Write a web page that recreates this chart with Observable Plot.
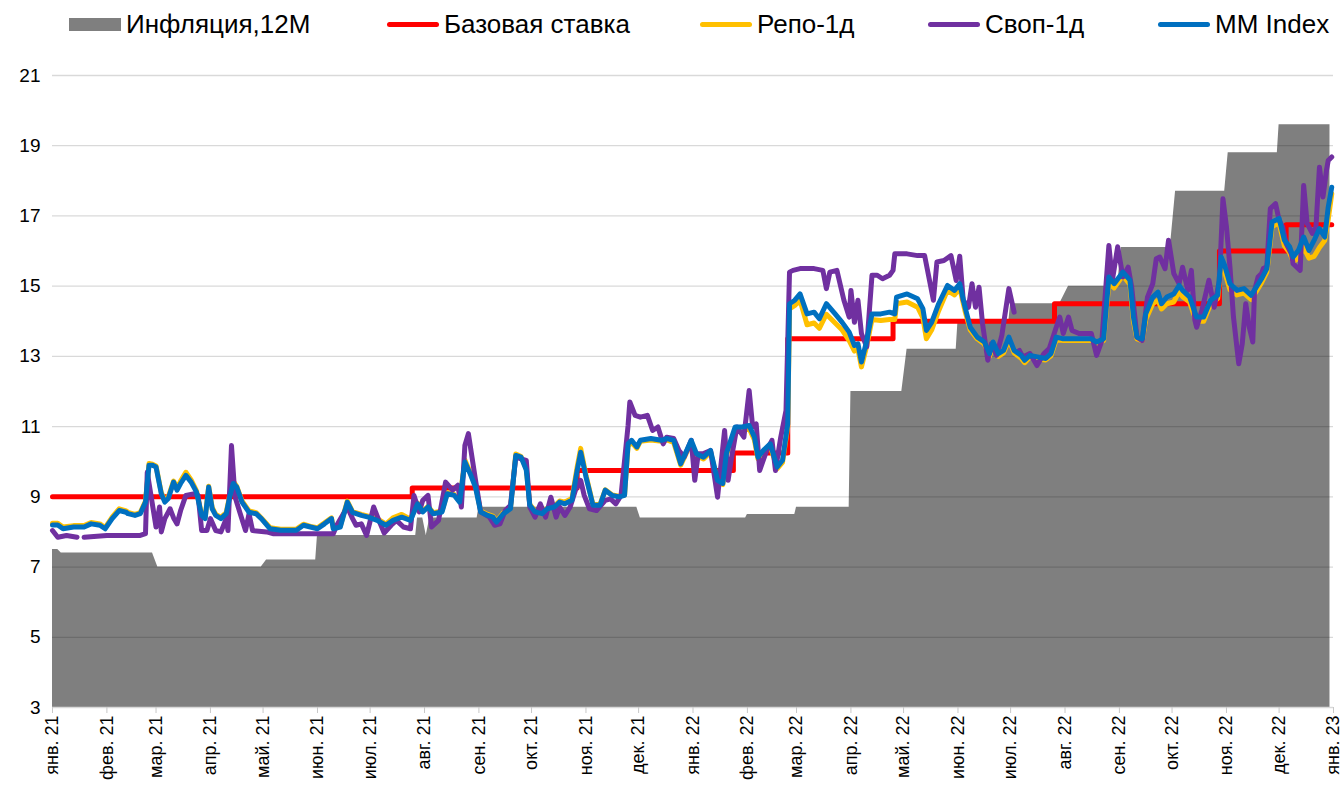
<!DOCTYPE html>
<html><head><meta charset="utf-8">
<script src="https://cdn.jsdelivr.net/npm/d3@7"></script>
<script src="https://cdn.jsdelivr.net/npm/@observablehq/plot@0.6"></script>
<style>
body{margin:0;background:#fff;font-family:"Liberation Sans",Arial,sans-serif;}
#legend{position:relative;height:50px;width:1343px;}
.item{position:absolute;top:0;height:48px;display:flex;align-items:center;font-size:26px;color:#000;white-space:nowrap;}
.sw{display:inline-block;margin-right:5px;}
</style></head><body>
<div id="legend"></div>
<div id="chart"></div>
<script>
// ---------- DATA ----------
const monthNames = ["янв.","фев.","мар.","апр.","май.","июн.","июл.","авг.","сен.","окт.","ноя.","дек."];
const yTicks = [3,5,7,9,11,13,15,17,19,21];

const seriesNames = ["Инфляция,12М","Базовая ставка","Репо-1д","Своп-1д","MM Index"];
const seriesColors = ["#7f7f7f","#ff0000","#ffc000","#7030a0","#0070c0"];

const inflDates = ["2021-01-01","2021-01-04","2021-01-06","2021-02-27","2021-03-02","2021-04-30","2021-05-03","2021-05-31","2021-06-01","2021-07-27","2021-07-28","2021-07-31","2021-08-02","2021-08-04","2021-08-31","2021-09-01","2021-11-30","2021-12-02","2022-01-31","2022-02-01","2022-02-28","2022-03-01","2022-03-31","2022-04-01","2022-04-30","2022-05-03","2022-05-31","2022-06-01","2022-06-30","2022-07-01","2022-07-29","2022-08-03","2022-08-31","2022-09-02","2022-09-30","2022-10-03","2022-10-31","2022-11-02","2022-11-30","2022-12-01","2022-12-30"];
const inflValues = [7.5,7.5,7.4,7.4,7.0,7.0,7.2,7.2,7.9,7.9,8.4,8.4,7.9,8.4,8.4,8.7,8.7,8.4,8.4,8.5,8.5,8.7,8.7,12.0,12.0,13.2,13.2,14.0,14.0,14.5,14.5,15.0,15.0,16.1,16.1,17.7,17.7,18.8,18.8,19.6,19.6];

const rateDates = ["2021-01-01","2021-07-25","2021-10-27","2022-01-24","2022-02-24","2022-04-25","2022-07-26","2022-10-28","2022-12-05","2022-12-31"];
const rateValues = [9.0,9.25,9.75,10.25,13.5,14.0,14.5,16.0,16.75,16.75];

const mmDates = ["2021-01-01","2021-01-04","2021-01-07","2021-01-13","2021-01-19","2021-01-23","2021-01-28","2021-01-31","2021-02-04","2021-02-08","2021-02-12","2021-02-13","2021-02-17","2021-02-20","2021-02-23","2021-02-25","2021-02-27","2021-03-01","2021-03-04","2021-03-06","2021-03-08","2021-03-11","2021-03-13","2021-03-15","2021-03-18","2021-03-21","2021-03-24","2021-03-27","2021-03-29","2021-03-31","2021-04-02","2021-04-04","2021-04-07","2021-04-10","2021-04-12","2021-04-14","2021-04-16","2021-04-19","2021-04-23","2021-04-27","2021-04-30","2021-05-05","2021-05-11","2021-05-20","2021-05-24","2021-05-28","2021-06-01","2021-06-05","2021-06-09","2021-06-10","2021-06-14","2021-06-18","2021-06-21","2021-06-26","2021-06-30","2021-07-05","2021-07-10","2021-07-14","2021-07-19","2021-07-24","2021-07-28","2021-07-31","2021-08-03","2021-08-06","2021-08-11","2021-08-14","2021-08-18","2021-08-21","2021-08-24","2021-08-27","2021-08-30","2021-09-02","2021-09-06","2021-09-09","2021-09-11","2021-09-15","2021-09-19","2021-09-22","2021-09-25","2021-09-28","2021-09-30","2021-10-03","2021-10-07","2021-10-10","2021-10-14","2021-10-17","2021-10-20","2021-10-24","2021-10-27","2021-10-29","2021-11-01","2021-11-05","2021-11-09","2021-11-12","2021-11-16","2021-11-20","2021-11-23","2021-11-25","2021-11-27","2021-11-30","2021-12-02","2021-12-08","2021-12-14","2021-12-17","2021-12-21","2021-12-25","2021-12-31","2022-01-03","2022-01-07","2022-01-11","2022-01-15","2022-01-18","2022-01-20","2022-01-25","2022-01-29","2022-02-02","2022-02-05","2022-02-07","2022-02-10","2022-02-14","2022-02-18","2022-02-21","2022-02-24","2022-02-25","2022-02-28","2022-03-03","2022-03-07","2022-03-11","2022-03-14","2022-03-18","2022-03-23","2022-03-27","2022-03-31","2022-04-03","2022-04-05","2022-04-07","2022-04-10","2022-04-13","2022-04-18","2022-04-23","2022-04-26","2022-04-27","2022-05-03","2022-05-09","2022-05-12","2022-05-14","2022-05-17","2022-05-21","2022-05-26","2022-05-30","2022-06-02","2022-06-05","2022-06-08","2022-06-12","2022-06-16","2022-06-19","2022-06-21","2022-06-24","2022-06-27","2022-06-30","2022-07-03","2022-07-07","2022-07-09","2022-07-12","2022-07-17","2022-07-21","2022-07-24","2022-07-27","2022-07-31","2022-08-08","2022-08-16","2022-08-19","2022-08-23","2022-08-26","2022-08-29","2022-09-03","2022-09-07","2022-09-09","2022-09-11","2022-09-14","2022-09-16","2022-09-20","2022-09-23","2022-09-25","2022-09-28","2022-10-02","2022-10-05","2022-10-07","2022-10-11","2022-10-13","2022-10-15","2022-10-19","2022-10-23","2022-10-27","2022-10-29","2022-10-31","2022-11-03","2022-11-07","2022-11-11","2022-11-15","2022-11-18","2022-11-21","2022-11-24","2022-11-27","2022-12-01","2022-12-04","2022-12-07","2022-12-09","2022-12-12","2022-12-15","2022-12-18","2022-12-21","2022-12-24","2022-12-27","2022-12-29","2022-12-31"];
const mmValues = [8.20,8.20,8.09,8.14,8.14,8.23,8.19,8.09,8.38,8.61,8.56,8.52,8.47,8.52,8.85,9.90,9.90,9.85,9.09,8.85,8.95,9.42,9.19,9.38,9.61,9.42,9.14,8.47,8.38,9.28,8.66,8.47,8.38,8.52,9.00,9.38,9.28,8.85,8.56,8.52,8.38,8.09,8.05,8.05,8.19,8.14,8.09,8.23,8.38,8.09,8.14,8.85,8.56,8.47,8.42,8.33,8.19,8.33,8.42,8.33,8.80,8.57,8.71,8.52,8.57,9.09,9.04,8.85,9.99,9.66,9.28,8.57,8.47,8.42,8.28,8.52,8.66,10.18,10.13,9.76,8.76,8.57,8.52,8.66,8.71,8.85,8.80,8.90,9.75,10.27,9.57,8.76,8.76,9.19,9.04,9.00,9.04,10.51,10.61,10.42,10.61,10.66,10.61,10.66,10.61,9.94,10.61,10.23,10.13,10.32,9.47,9.38,10.23,10.99,10.99,11.03,10.70,10.13,10.32,10.51,9.85,10.04,11.08,14.50,14.60,14.78,14.21,14.26,14.07,14.50,14.21,13.97,13.69,13.31,13.36,12.84,13.45,14.21,14.21,14.26,14.21,14.69,14.78,14.64,14.36,13.74,13.97,14.50,15.02,14.88,15.07,14.40,13.83,13.55,13.41,13.08,13.41,13.08,13.17,13.55,13.17,13.03,12.89,13.03,12.98,12.94,13.08,13.55,13.50,13.50,13.50,13.41,13.50,15.26,15.07,15.40,15.17,14.12,13.55,13.50,14.21,14.69,14.83,14.50,14.69,14.78,15.02,14.88,14.69,14.40,14.12,14.12,14.60,14.74,15.83,15.59,15.07,14.88,14.93,14.74,14.97,15.21,15.50,16.83,16.93,16.31,16.12,15.83,16.02,16.40,16.02,16.31,16.64,16.40,17.25,17.82];
const repoValues = [8.25,8.25,8.14,8.18,8.18,8.27,8.23,8.12,8.42,8.66,8.60,8.56,8.50,8.55,8.88,9.95,9.93,9.88,9.12,8.90,9.00,9.45,9.25,9.45,9.70,9.48,9.18,8.50,8.40,9.30,8.70,8.50,8.42,8.55,9.05,9.45,9.30,8.88,8.60,8.55,8.40,8.12,8.08,8.08,8.22,8.16,8.12,8.26,8.40,8.12,8.16,8.88,8.58,8.50,8.45,8.38,8.22,8.40,8.50,8.36,8.82,8.60,8.73,8.55,8.60,9.12,9.06,8.88,10.05,9.70,9.32,8.60,8.50,8.45,8.30,8.55,8.68,10.22,10.15,9.80,8.78,8.60,8.55,8.68,8.74,8.88,8.85,8.95,9.85,10.38,9.62,8.78,8.78,9.20,9.05,9.02,9.05,10.45,10.55,10.38,10.58,10.62,10.58,10.62,10.55,9.90,10.55,10.18,10.08,10.28,9.42,9.35,10.18,10.92,10.92,10.95,10.62,10.08,10.25,10.45,9.80,9.98,11.00,14.35,14.45,14.60,13.90,13.95,13.80,14.20,13.95,13.75,13.45,13.15,13.20,12.70,13.30,14.05,14.02,14.05,14.05,14.50,14.55,14.40,14.10,13.50,13.75,14.30,14.88,14.75,14.95,14.30,13.75,13.50,13.35,13.00,13.35,13.00,13.10,13.48,13.10,12.95,12.82,12.98,12.92,12.90,13.02,13.48,13.45,13.45,13.45,13.38,13.45,15.10,14.95,15.30,15.05,14.00,13.50,13.45,14.05,14.50,14.60,14.35,14.50,14.55,14.85,14.70,14.55,14.25,14.00,14.00,14.50,14.65,15.70,15.40,14.90,14.75,14.80,14.62,14.85,15.10,15.40,16.70,16.80,16.15,15.95,15.70,15.80,16.10,15.80,15.85,16.10,16.30,16.90,17.63];

const swapDates = ["2021-01-01","2021-01-04","2021-01-09","2021-01-15","2021-01-17","2021-01-19","2021-02-01","2021-02-20","2021-02-23","2021-02-24","2021-03-01","2021-03-03","2021-03-04","2021-03-06","2021-03-09","2021-03-11","2021-03-13","2021-03-15","2021-03-18","2021-03-23","2021-03-25","2021-03-27","2021-03-30","2021-04-01","2021-04-04","2021-04-07","2021-04-10","2021-04-11","2021-04-13","2021-04-15","2021-04-18","2021-04-21","2021-04-23","2021-04-25","2021-05-03","2021-05-07","2021-05-19","2021-06-10","2021-06-12","2021-06-18","2021-06-21","2021-06-23","2021-06-26","2021-06-29","2021-07-03","2021-07-06","2021-07-09","2021-07-13","2021-07-16","2021-07-20","2021-07-24","2021-07-26","2021-07-29","2021-07-31","2021-08-03","2021-08-05","2021-08-09","2021-08-13","2021-08-17","2021-08-20","2021-08-22","2021-08-24","2021-08-26","2021-08-30","2021-09-02","2021-09-07","2021-09-10","2021-09-13","2021-09-16","2021-09-19","2021-09-22","2021-09-25","2021-09-28","2021-09-30","2021-10-03","2021-10-06","2021-10-09","2021-10-12","2021-10-15","2021-10-17","2021-10-20","2021-10-23","2021-10-26","2021-10-29","2021-10-31","2021-11-03","2021-11-07","2021-11-12","2021-11-15","2021-11-18","2021-11-21","2021-11-25","2021-11-26","2021-11-29","2021-12-02","2021-12-06","2021-12-09","2021-12-12","2021-12-15","2021-12-17","2021-12-21","2021-12-24","2021-12-27","2021-12-31","2022-01-02","2022-01-04","2022-01-07","2022-01-11","2022-01-15","2022-01-19","2022-01-21","2022-01-23","2022-01-26","2022-01-30","2022-02-02","2022-02-04","2022-02-06","2022-02-08","2022-02-12","2022-02-15","2022-02-17","2022-02-20","2022-02-23","2022-02-25","2022-02-27","2022-03-03","2022-03-11","2022-03-16","2022-03-18","2022-03-20","2022-03-24","2022-03-28","2022-03-31","2022-04-01","2022-04-03","2022-04-05","2022-04-07","2022-04-10","2022-04-13","2022-04-16","2022-04-19","2022-04-23","2022-04-25","2022-04-26","2022-05-03","2022-05-09","2022-05-13","2022-05-18","2022-05-20","2022-05-24","2022-05-28","2022-05-31","2022-06-02","2022-06-04","2022-06-07","2022-06-09","2022-06-11","2022-06-13","2022-06-15","2022-06-18","2022-06-20","2022-06-23","2022-06-26","2022-06-30","2022-07-03","2022-07-04","2022-07-06","2022-07-08","2022-07-12","2022-07-16","2022-07-20","2022-07-23","2022-07-27","2022-07-29","2022-07-31","2022-08-03","2022-08-05","2022-08-09","2022-08-16","2022-08-19","2022-08-22","2022-08-26","2022-08-28","2022-08-31","2022-09-03","2022-09-06","2022-09-08","2022-09-11","2022-09-14","2022-09-17","2022-09-20","2022-09-22","2022-09-24","2022-09-27","2022-09-29","2022-10-02","2022-10-05","2022-10-07","2022-10-10","2022-10-12","2022-10-14","2022-10-15","2022-10-18","2022-10-22","2022-10-25","2022-10-28","2022-10-30","2022-11-01","2022-11-03","2022-11-05","2022-11-08","2022-11-10","2022-11-12","2022-11-14","2022-11-16","2022-11-17","2022-11-19","2022-11-21","2022-11-22","2022-11-24","2022-11-26","2022-11-29","2022-12-01","2022-12-03","2022-12-05","2022-12-08","2022-12-09","2022-12-13","2022-12-15","2022-12-17","2022-12-20","2022-12-22","2022-12-24","2022-12-26","2022-12-28","2022-12-29","2022-12-31"];
const swapValues = [8.04,7.85,7.90,7.85,null,7.85,7.90,7.90,7.95,9.70,8.14,8.71,8.00,8.38,8.66,8.40,8.23,8.61,9.04,9.09,9.04,8.04,8.04,8.38,8.04,8.00,8.38,8.04,10.46,9.00,8.52,8.04,8.52,8.04,8.00,7.95,7.95,7.95,8.19,8.71,8.38,8.19,8.23,7.90,8.71,8.33,7.97,8.19,8.33,8.14,8.09,9.04,8.57,8.90,9.04,8.14,8.33,9.42,9.19,9.33,8.71,10.46,10.80,9.50,8.57,8.42,8.19,8.23,8.61,8.76,10.13,10.08,10.04,8.71,8.42,8.80,8.42,8.99,8.42,8.71,8.47,8.71,9.19,9.47,9.04,8.66,8.61,8.90,8.94,8.80,9.04,11.03,11.70,11.32,11.27,11.32,10.89,10.99,10.51,10.70,10.66,10.32,10.13,10.61,9.47,10.23,10.23,10.32,8.99,10.89,9.47,10.13,10.99,10.70,12.03,10.99,11.08,9.75,10.32,10.61,9.75,10.70,11.46,15.40,15.45,15.50,15.50,15.45,14.93,15.40,15.45,14.60,14.12,14.88,13.97,14.60,13.65,13.27,15.31,15.31,15.21,15.31,15.45,15.92,15.92,15.87,15.87,14.60,15.69,15.73,15.87,15.16,15.85,14.60,14.40,15.07,14.40,14.97,13.93,12.89,13.36,13.03,13.60,14.93,14.26,null,13.17,12.98,13.08,12.74,13.08,13.22,13.83,14.12,13.65,14.12,13.74,13.65,13.65,13.03,13.45,16.16,15.17,16.12,15.26,15.54,14.97,13.55,13.45,14.69,15.07,15.78,15.83,15.50,16.31,15.36,15.07,15.54,14.88,15.45,14.03,13.83,14.31,15.17,14.40,15.17,17.49,16.69,15.54,14.12,12.79,13.36,14.50,13.83,13.41,14.88,15.26,15.36,15.50,15.55,17.21,17.35,16.88,16.69,16.21,15.92,15.64,15.45,17.87,16.78,16.50,16.69,18.39,17.54,18.30,18.58,18.68];

// ---------- BUILD ----------
const parse = s => new Date(s + "T00:00:00Z");
const infl = inflDates.map((d,i) => ({date: parse(d), value: inflValues[i]}));
const rate = rateDates.map((d,i) => ({date: parse(d), value: rateValues[i]}));
const mm = mmDates.map((d,i) => ({date: parse(d), mm: mmValues[i], repo: repoValues[i]}));
const swap = swapDates.map((d,i) => ({date: parse(d), value: swapValues[i]}));

const x0 = parse("2021-01-01"), x1 = parse("2023-01-01");
const monthTicks = d3.utcMonth.range(x0, d3.utcDay.offset(x1, 1));
const fmt = d => monthNames[d.getUTCMonth()] + " " + String(d.getUTCFullYear()).slice(2);

// Legend (HTML, above the SVG)
const legend = document.getElementById("legend");
const legendX = [69, 387, 700, 928, 1158];
seriesNames.forEach((name, i) => {
  const it = document.createElement("div");
  it.className = "item";
  it.style.left = legendX[i] + "px";
  const sw = document.createElement("span");
  sw.className = "sw";
  if (i === 0) {
    sw.style.width = "52px"; sw.style.height = "13px"; sw.style.background = seriesColors[i];
  } else {
    sw.style.width = "52px"; sw.style.height = "5px"; sw.style.borderRadius = "3px"; sw.style.background = seriesColors[i];
  }
  it.appendChild(sw);
  const t = document.createElement("span");
  t.textContent = name;
  it.appendChild(t);
  legend.appendChild(it);
});

const lw = 5;
const chart = Plot.plot({
  width: 1343,
  height: 737,
  marginLeft: 52,
  marginRight: 10,
  marginTop: 25,
  marginBottom: 80,
  style: {fontFamily: '"Liberation Sans", Arial, sans-serif', background: "white", color: "black"},
  x: {type: "utc", domain: [x0, x1], label: null},
  y: {domain: [3, 21], label: null},
  marks: [
    Plot.areaY(infl, {x: "date", y1: 3, y2: "value", fill: seriesColors[0]}),
    Plot.ruleY(yTicks.filter(v => v > 3), {stroke: "black", strokeOpacity: 0.15, strokeWidth: 1.3}),
    Plot.ruleY([3], {stroke: "#d9d9d9", strokeWidth: 1.3}),
    Plot.axisX({ticks: monthTicks, tickSize: 6, stroke: "#c8c8c8", tickFormat: () => ""}),
    Plot.axisX({ticks: monthTicks, tickSize: 0, tickPadding: 8, tickRotate: -90, tickFormat: fmt, fontSize: 18, fill: "black"}),
    Plot.axisY({ticks: yTicks, tickSize: 0, tickPadding: 12, fontSize: 19, fill: "black"}),
    Plot.line(rate, {x: "date", y: "value", stroke: seriesColors[1], strokeWidth: lw, curve: "step-after"}),
    Plot.line(mm, {x: "date", y: "repo", stroke: seriesColors[2], strokeWidth: lw}),
    Plot.line(swap, {x: "date", y: "value", stroke: seriesColors[3], strokeWidth: lw}),
    Plot.line(mm, {x: "date", y: "mm", stroke: seriesColors[4], strokeWidth: lw})
  ]
});
document.getElementById("chart").appendChild(chart);
</script></body></html>
